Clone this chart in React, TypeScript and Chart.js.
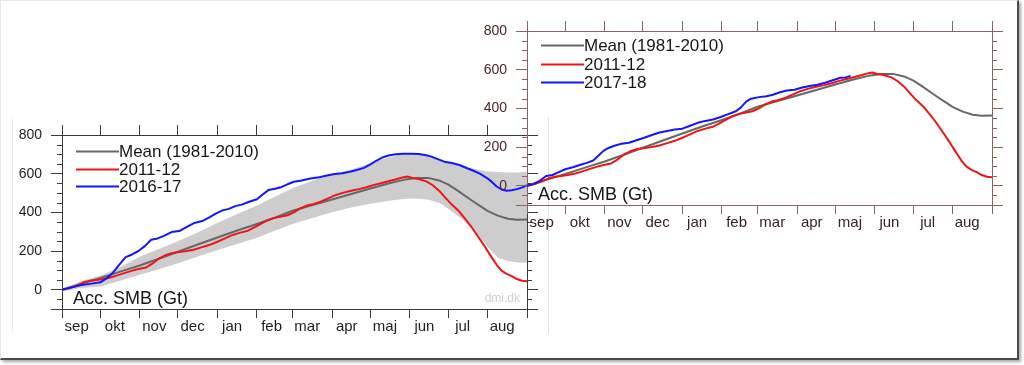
import React, { useEffect, useRef } from 'react';
import { Chart, registerables } from 'chart.js';

Chart.register(...registerables);

// ---------- data ----------
const monthLabels = ['sep', 'okt', 'nov', 'dec', 'jan', 'feb', 'mar', 'apr', 'maj', 'jun', 'jul', 'aug'];
const monthStartDays = [0, 30, 61, 91, 122, 153, 181, 212, 242, 273, 303, 334, 365];
const monthLabelOffset = 11.5;
const yTickValues = [-100, 0, 200, 400, 600, 800];
const yMin = -100;
const yMax = 800;
const yMinorStep = 50;

const meanDays = [0, 15, 30, 45, 61, 76, 91, 106, 122, 137, 153, 167, 181, 196, 212, 227, 242, 257, 268, 278, 288, 296, 303, 310, 318, 326, 334, 342, 350, 357, 365];
const meanValues = [0, 30, 60, 92, 125, 160, 196, 232, 270, 305, 340, 372, 408, 437, 466, 495, 523, 550, 568, 578, 577, 565, 545, 515, 478, 442, 408, 383, 367, 362, 363];

const red1112Days = [0, 6, 12, 17, 22, 27, 32, 38, 44, 50, 56, 61, 66, 71, 76, 81, 86, 92, 98, 104, 110, 116, 122, 128, 134, 140, 146, 151, 156, 161, 166, 172, 177, 182, 187, 192, 197, 203, 209, 215, 221, 227, 233, 239, 245, 251, 257, 263, 268, 271, 275, 280, 286, 291, 296, 301, 306, 311, 316, 321, 326, 331, 336, 341, 345, 349, 353, 357, 361, 365];
const red1112Values = [0, 8, 22, 38, 46, 50, 55, 63, 75, 88, 100, 108, 115, 135, 160, 178, 188, 195, 200, 208, 220, 232, 248, 265, 283, 295, 305, 322, 340, 358, 370, 378, 385, 400, 420, 435, 442, 455, 472, 490, 502, 512, 520, 530, 542, 552, 562, 572, 582, 585, 578, 572, 560, 540, 512, 475, 440, 410, 370, 328, 280, 232, 180, 130, 98, 82, 70, 55, 46, 44];

const blue1617Days = [0, 8, 15, 22, 30, 35, 40, 45, 50, 55, 60, 65, 70, 75, 80, 86, 92, 98, 104, 110, 116, 121, 126, 131, 136, 141, 147, 153, 158, 162, 167, 172, 177, 182, 188, 195, 202, 208, 214, 220, 226, 232, 237, 242, 247, 252, 257, 262, 268, 274, 280, 285, 290, 295, 300, 306, 312, 318, 323, 328, 333, 337, 341, 345, 349, 353, 357, 361, 365];
const blue1617Values = [0, 12, 24, 30, 38, 58, 88, 130, 168, 182, 200, 225, 258, 265, 278, 298, 303, 325, 345, 355, 375, 395, 410, 418, 432, 440, 455, 468, 495, 515, 522, 530, 545, 558, 565, 575, 582, 590, 598, 602, 610, 620, 630, 648, 668, 685, 695, 700, 703, 703, 702, 697, 688, 675, 662, 655, 645, 628, 615, 600, 580, 560, 535, 518, 512, 514, 520, 528, 540];

const blue1718Days = [0, 5, 10, 15, 20, 25, 30, 36, 42, 47, 52, 56, 60, 64, 68, 73, 80, 86, 92, 98, 104, 110, 116, 122, 128, 134, 140, 146, 152, 158, 164, 168, 172, 176, 182, 188, 193, 198, 204, 210, 216, 222, 228, 234, 240, 246, 250, 254];
const blue1718Values = [0, 8, 25, 50, 55, 70, 85, 95, 108, 118, 130, 155, 180, 195, 205, 215, 222, 235, 248, 262, 275, 283, 290, 295, 310, 325, 335, 342, 355, 370, 385, 405, 435, 450, 458, 462, 470, 482, 492, 496, 508, 515, 522, 532, 545, 558, 560, 568];

const bandDays = [0, 15, 30, 45, 61, 76, 91, 106, 122, 137, 153, 167, 181, 196, 212, 227, 242, 257, 266, 273, 280, 288, 297, 305, 313, 323, 333, 342, 350, 358, 365];
const bandUpper = [0, 45, 72, 115, 170, 210, 250, 295, 345, 390, 435, 480, 525, 562, 596, 622, 652, 685, 700, 703, 700, 690, 672, 660, 645, 625, 612, 608, 606, 606, 610];
const bandLower = [-8, 8, 17, 45, 77, 105, 137, 170, 205, 235, 268, 305, 340, 370, 400, 425, 445, 460, 468, 472, 470, 465, 447, 410, 370, 309, 230, 165, 148, 140, 139];

const leftLegend = ['Mean (1981-2010)', '2011-12', '2016-17'];
const rightLegend = ['Mean (1981-2010)', '2011-12', '2017-18'];

// ---------- helpers ----------
const FONT = '"Liberation Sans", Arial, Helvetica, sans-serif';
const GRAY = '#676767';
const RED = '#f01414';
const BLUE = '#1414ff';

const pts = (xs: number[], ys: number[]) => xs.map((x, i) => ({ x, y: ys[i] }));

const line = (label: string, xs: number[], ys: number[], color: string, order: number) => ({
  label,
  data: pts(xs, ys),
  borderColor: color,
  backgroundColor: color,
  borderWidth: 2,
  pointRadius: 0,
  tension: 0,
  fill: false,
  order,
  inLegend: true,
  borderJoinStyle: 'round',
});

const overlayPlugin = {
  id: 'overlay',
  afterDatasetsDraw(chart: any, _args: any, opts: any) {
    const { ctx, chartArea } = chart;
    const { left, top, right, bottom } = chartArea;
    const ys = chart.scales.y;
    ctx.save();
    // minor ticks
    ctx.strokeStyle = opts.axisColor;
    ctx.lineWidth = 1;
    for (let v = yMin; v <= yMax; v += yMinorStep) {
      if (yTickValues.includes(v)) continue;
      const py = Math.round(ys.getPixelForValue(v)) + 0.5;
      ctx.beginPath();
      ctx.moveTo(left - 5, py);
      ctx.lineTo(left, py);
      ctx.moveTo(right, py);
      ctx.lineTo(right + 5, py);
      ctx.stroke();
    }
    // legend
    ctx.font = `17px ${FONT}`;
    ctx.textAlign = 'left';
    ctx.textBaseline = 'middle';
    let row = 0;
    chart.data.datasets.forEach((ds: any) => {
      if (!ds.inLegend) return;
      const ly = Math.round(top + opts.legendTop + row * opts.legendGap) + 0.5;
      ctx.strokeStyle = ds.borderColor;
      ctx.lineWidth = 2;
      ctx.beginPath();
      ctx.moveTo(left + 14, ly);
      ctx.lineTo(left + 57, ly);
      ctx.stroke();
      ctx.fillStyle = '#161616';
      ctx.fillText(ds.label, left + 57, ly + 1);
      row++;
    });
    // title
    ctx.font = `18px ${FONT}`;
    ctx.textBaseline = 'alphabetic';
    ctx.fillStyle = '#161616';
    ctx.fillText(opts.title, left + 11, bottom - 5);
    if (opts.watermark) {
      ctx.font = `12px ${FONT}`;
      ctx.textAlign = 'right';
      ctx.fillStyle = '#cfcfcf';
      ctx.fillText(opts.watermark, right - 7, bottom - 7);
    }
    ctx.restore();
  },
};

type Layout = {
  leftW: number;
  rightW: number;
  topH: number;
  bottomH: number;
  axisColor: string;
  labelColor: string;
  monthColor: string;
  watermark?: string;
  legendTop: number;
  legendGap: number;
};

const isBoundary = (v: number) => monthStartDays.includes(v);

function makeOptions(l: Layout) {
  const tickFont = { family: FONT, size: 14 };
  const monthFont = { family: FONT, size: 15 };
  const boundaryTicks = () => monthStartDays.map((v) => ({ value: v }));
  return {
    responsive: false,
    devicePixelRatio: 1,
    animation: false,
    events: [],
    layout: { padding: 0 },
    plugins: {
      legend: { display: false },
      tooltip: { enabled: false },
      title: { display: false },
      overlay: {
        axisColor: l.axisColor,
        title: 'Acc. SMB (Gt)',
        watermark: l.watermark,
        legendTop: l.legendTop,
        legendGap: l.legendGap,
      },
    },
    scales: {
      x: {
        type: 'linear',
        position: 'bottom',
        min: 0,
        max: 365,
        afterBuildTicks: (s: any) => {
          const t = [
            ...monthStartDays.map((v) => v),
            ...monthStartDays.slice(0, 12).map((v) => v + monthLabelOffset),
          ].sort((a, b) => a - b);
          s.ticks = t.map((v) => ({ value: v }));
        },
        afterFit: (s: any) => {
          s.height = l.bottomH;
        },
        ticks: {
          autoSkip: false,
          maxRotation: 0,
          minRotation: 0,
          padding: 0,
          color: l.monthColor,
          font: monthFont,
          callback: (v: number) => {
            const i = monthStartDays.findIndex((m) => Math.abs(m + monthLabelOffset - v) < 0.01);
            return i >= 0 && i < 12 ? monthLabels[i] : '';
          },
        },
        grid: {
          drawOnChartArea: false,
          drawTicks: true,
          tickLength: 9,
          tickWidth: 1,
          tickColor: (c: any) => (c.tick && isBoundary(c.tick.value) ? l.axisColor : 'rgba(0,0,0,0)'),
        },
        border: { display: true, color: l.axisColor, width: 1 },
      },
      xTop: {
        type: 'linear',
        axis: 'x',
        position: 'top',
        min: 0,
        max: 365,
        afterBuildTicks: (s: any) => {
          s.ticks = boundaryTicks();
        },
        afterFit: (s: any) => {
          s.height = l.topH;
        },
        ticks: { display: false },
        grid: { drawOnChartArea: false, drawTicks: true, tickLength: 10, tickColor: l.axisColor },
        border: { display: true, color: l.axisColor, width: 1 },
      },
      y: {
        type: 'linear',
        position: 'left',
        min: yMin,
        max: yMax,
        afterBuildTicks: (s: any) => {
          s.ticks = yTickValues.map((v) => ({ value: v }));
        },
        afterFit: (s: any) => {
          s.width = l.leftW;
        },
        ticks: {
          padding: 9,
          color: l.labelColor,
          font: tickFont,
          callback: (v: number) => (v < 0 ? '' : String(v)),
        },
        grid: { drawOnChartArea: false, drawTicks: true, tickLength: 11, tickColor: l.axisColor },
        border: { display: true, color: l.axisColor, width: 1 },
      },
      y2: {
        type: 'linear',
        axis: 'y',
        position: 'right',
        min: yMin,
        max: yMax,
        afterBuildTicks: (s: any) => {
          s.ticks = yTickValues.map((v) => ({ value: v }));
        },
        afterFit: (s: any) => {
          s.width = l.rightW;
        },
        ticks: { display: false },
        grid: { drawOnChartArea: false, drawTicks: true, tickLength: 11, tickColor: l.axisColor },
        border: { display: true, color: l.axisColor, width: 1 },
      },
    },
  };
}

function leftConfig(): any {
  return {
    type: 'line',
    data: {
      datasets: [
        {
          label: 'band-upper',
          data: pts(bandDays, bandUpper),
          borderWidth: 0,
          borderColor: 'rgba(0,0,0,0)',
          backgroundColor: '#cdcdcd',
          pointRadius: 0,
          tension: 0,
          fill: '+1',
          order: 10,
        },
        {
          label: 'band-lower',
          data: pts(bandDays, bandLower),
          borderWidth: 0,
          borderColor: 'rgba(0,0,0,0)',
          pointRadius: 0,
          tension: 0,
          fill: false,
          order: 11,
        },
        line(leftLegend[0], meanDays, meanValues, GRAY, 3),
        line(leftLegend[1], red1112Days, red1112Values, RED, 2),
        line(leftLegend[2], blue1617Days, blue1617Values, BLUE, 1),
      ],
    },
    options: makeOptions({
      leftW: 62,
      rightW: 33,
      topH: 25,
      bottomH: 41,
      axisColor: '#3a3a3a',
      labelColor: '#1e1e1e',
      monthColor: '#1e1e1e',
      watermark: 'dmi.dk',
      legendTop: 16,
      legendGap: 17.7,
    }),
    plugins: [overlayPlugin],
  };
}

function rightConfig(): any {
  return {
    type: 'line',
    data: {
      datasets: [
        line(rightLegend[0], meanDays, meanValues, GRAY, 3),
        line(rightLegend[1], red1112Days, red1112Values, RED, 2),
        line(rightLegend[2], blue1718Days, blue1718Values, BLUE, 1),
      ],
    },
    options: makeOptions({
      leftW: 87,
      rightW: 28,
      topH: 31,
      bottomH: 35,
      axisColor: '#8e6262',
      labelColor: '#4e2626',
      monthColor: '#3a2222',
      legendTop: 14,
      legendGap: 18.5,
    }),
    plugins: [overlayPlugin],
  };
}

function ChartCanvas(props: { left: number; top: number; width: number; height: number; make: () => any }) {
  const ref = useRef<HTMLCanvasElement>(null);
  useEffect(() => {
    if (!ref.current) return;
    const chart = new Chart(ref.current, props.make());
    return () => chart.destroy();
  }, []);
  return (
    <canvas
      ref={ref}
      width={props.width}
      height={props.height}
      style={{ position: 'absolute', left: props.left, top: props.top, width: props.width, height: props.height }}
    />
  );
}

export default function App() {
  return (
    <div
      style={{
        position: 'fixed',
        left: 0,
        top: 0,
        width: 1024,
        height: 365,
        background: '#ffffff',
        overflow: 'hidden',
      }}
    >
      <div
        style={{
          position: 'absolute',
          left: 0,
          top: 0,
          width: 1016,
          height: 357,
          borderTop: '1px solid #e6e6e6',
          borderLeft: '1px solid #e6e6e6',
          borderRight: '2px solid #4a4a4a',
          borderBottom: '2px solid #4a4a4a',
          boxShadow: '2px 2px 3px rgba(0,0,0,0.35)',
        }}
      />
      <div
        style={{
          position: 'absolute',
          left: 12,
          top: 117,
          width: 535,
          height: 216,
          borderLeft: '1px solid #ededed',
          borderRight: '1px solid #e2e2e2',
        }}
      />
      <ChartCanvas left={0} top={110} width={560} height={240} make={leftConfig} />
      <ChartCanvas left={440} top={0} width={580} height={240} make={rightConfig} />
    </div>
  );
}
